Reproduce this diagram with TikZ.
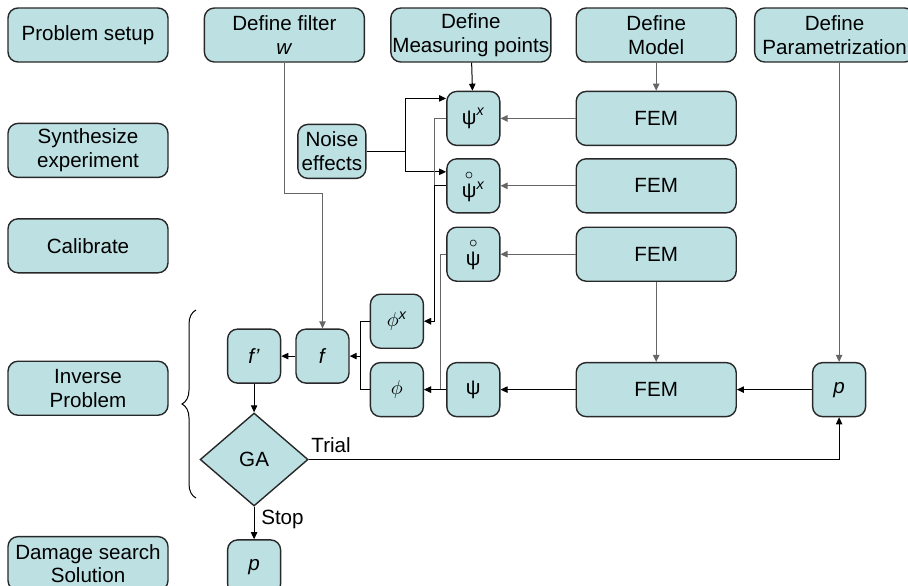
\documentclass[tikz,border=0pt]{standalone}
\usepackage{amsmath}
\usepackage{fontspec}
\setmainfont{Liberation Sans}
\usepackage{tikz}
\usetikzlibrary{arrows.meta,positioning,shapes.geometric,decorations.pathreplacing}

\definecolor{boxfill}{RGB}{189,224,227}
\definecolor{boxline}{RGB}{40,40,40}
\newcommand{\ringpsi}{\overset{\text{\fontsize{8}{8}\selectfont$\circ$}}{\text{ψ}}}

\begin{document}
\begin{tikzpicture}[
  font=\fontsize{10.3}{11.8}\selectfont,
  stage/.style={draw=boxline, rounded corners=5pt, fill=boxfill, minimum width=80pt, minimum height=27pt, inner xsep=0.5pt, inner ysep=1pt, align=center, line width=0.7pt},
  small/.style={draw=boxline, rounded corners=5pt, fill=boxfill, minimum width=26.5pt, minimum height=27pt, inner sep=1pt, align=center, line width=0.7pt},
  choice/.style={draw=boxline, diamond, fill=boxfill, minimum width=54pt, minimum height=46.5pt, inner sep=0pt, aspect=1.16, line width=0.7pt},
  arr/.style={-{Triangle[length=3.5pt,width=3.2pt]}, line width=0.5pt, black},
  garr/.style={-{Triangle[length=3.5pt,width=3.2pt]}, line width=0.6pt, gray!80!black},
  node distance=10pt and 10pt
]
  \useasboundingbox (0,0) rectangle (454pt,-292.5pt);

  % Stages
  \node[stage] (setup) at (44pt,-17.5pt) {Problem setup};
  \node[stage, below=30pt of setup] (synth) {Synthesize\\experiment};
  \node[stage, below=20pt of synth] (calib) {Calibrate};
  \node[stage, below=43.5pt of calib] (inverse) {Inverse\\Problem};
  \node[stage, below=60pt of inverse] (damage) {Damage search\\Solution};

  % Definitions
  \node[stage, right=17.5pt of setup] (filter) {Define filter\\\textit{w}};
  \node[stage, right=12.5pt of filter] (meas) {Define\\Measuring points};
  \node[stage, right=12pt of meas] (model) {Define\\Model};
  \node[stage, right=8.5pt of model] (param) {Define\\Parametrization};

  % Models
  \node[stage, below=14pt of model] (fem1) {FEM};
  \node[stage, below=6pt of fem1] (fem2) {FEM};
  \node[stage, below=6.5pt of fem2] (fem3) {FEM};
  \node[stage, below=40pt of fem3] (fem4) {FEM};

  % Responses
  \node[small, left=37.5pt of fem1] (psix) {$\text{ψ}^{\textit{x}}$};
  \node[small, left=37.5pt of fem2] (rpsix) {$\ringpsi{}^{\textit{x}}$};
  \node[small, left=37.5pt of fem3] (rpsi) {$\ringpsi$};
  \node[small, left=37.5pt of fem4] (psi) {ψ};
  \node[small, right=37.5pt of fem4] (pp) {\textit{p}};
  \node[small, left=39.75pt of psix, yshift=-16.5pt, minimum width=34pt] (noise) {Noise\\effects};

  % Inverse problem
  \node[small, left=11pt of psi] (phi) {$\phi$};
  \node[small, above=6.5pt of phi] (phix) {$\phi^{\textit{x}}$};
  \node[small, left=10pt of phi, yshift=16.75pt] (f) {\textit{f}};
  \node[small, left=7pt of f] (fp) {\textit{f’}};
  \node[choice, below=14.25pt of fp] (ga) {GA};
  \node[small, below=16.25pt of ga] (pout) {\textit{p}};

  % Brace
  \draw[decorate, decoration={brace, amplitude=7pt}, line width=0.5pt] (98pt,-249pt) -- (98pt,-155pt);

  % Arrows
  \draw[garr] (filter.south) -- ++(0,-65.5pt) -| (f.north);
  \draw[arr] (meas) -- (psix);
  \draw[garr] (model) -- (fem1);
  \draw[garr] (fem1) -- (psix);
  \draw[garr] (fem2) -- (rpsix);
  \draw[garr] (fem3) -- (rpsi);
  \draw[garr] (fem3) -- (fem4);
  \draw[garr] (param.south -| pp) -- (pp);
  \draw[arr] (pp) -- (fem4);
  \draw[arr] (fem4) -- (psi);
  \draw[arr] (noise.east) -- ++(19.25pt,0) |- ([yshift=10pt]psix.west);
  \draw[arr] (noise.east) -- ++(19.25pt,0) |- ([yshift=7pt]rpsix.west);
  \draw[garr] (psix.west) -- ++(-6pt,0) |- (phix.east);
  \draw[arr] (rpsix.west) -- ++(-6pt,0) |- (phix.east);
  \draw[garr] (rpsi.west) -- ++(-3pt,0) |- (phi.east);
  \draw[arr] (psi) -- (phi);
  \draw[line width=0.5pt] (phix.west) -- ++(-4.5pt,0) coordinate (jt) |- (phi.west);
  \draw[arr] (jt |- f.east) -- (f.east);
  \draw[arr] (f) -- (fp);
  \draw[arr] (fp) -- (ga);
  \draw[arr] (ga.east) -| node[pos=0.021, above] {Trial} (pp.south);
  \draw[arr] (ga.south) -- node[right, pos=0.4] {Stop} (pout.north);
\end{tikzpicture}
\end{document}
